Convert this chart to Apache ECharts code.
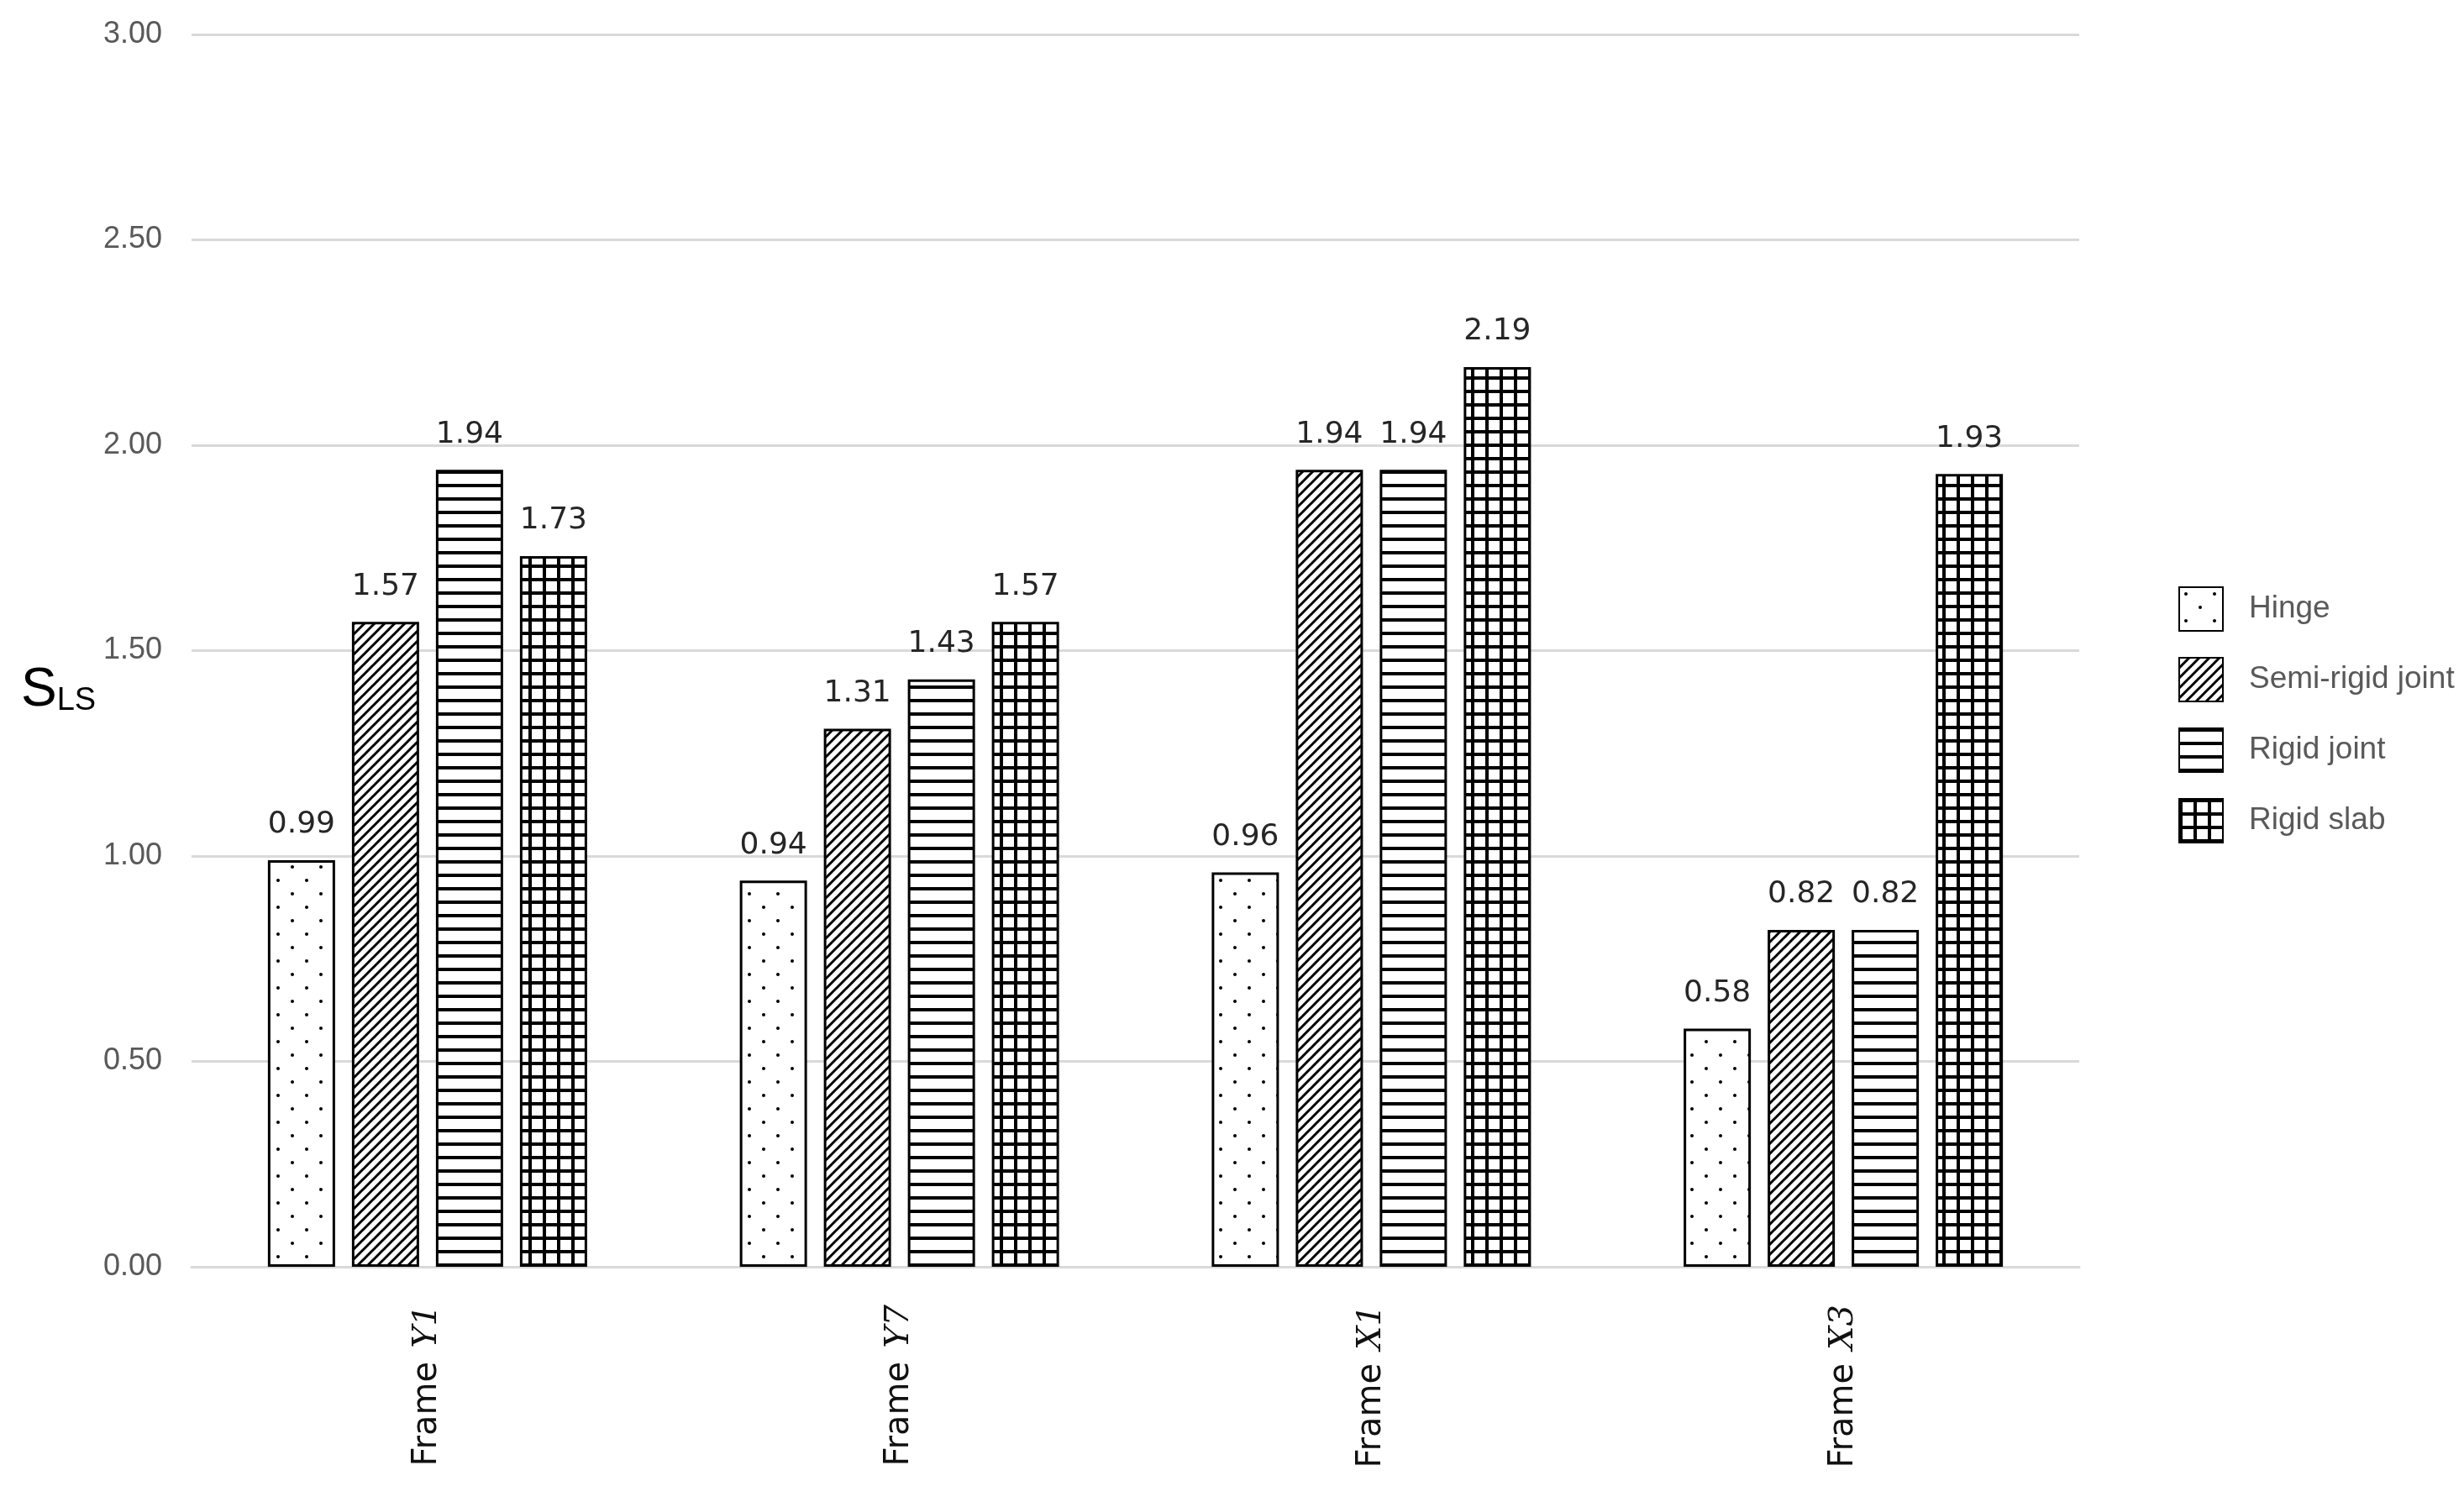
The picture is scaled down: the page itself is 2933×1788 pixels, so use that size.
<!DOCTYPE html>
<html>
<head>
<meta charset="utf-8">
<script src="https://cdn.jsdelivr.net/npm/echarts@6/dist/echarts.min.js"></script>
<style>
html,body{margin:0;padding:0;background:#fff;}
#chart{width:2933px;height:1788px;}
</style>
</head>
<body>
<div id="chart"></div>
<script>
// ---- data ----
var categories = ['Frame Y1', 'Frame Y7', 'Frame X1', 'Frame X3'];
var seriesNames = ['Hinge', 'Semi-rigid joint', 'Rigid joint', 'Rigid slab'];
var hingeValues = [0.99, 0.94, 0.96, 0.58];
var semiRigidValues = [1.57, 1.31, 1.94, 0.82];
var rigidJointValues = [1.94, 1.43, 1.94, 0.82];
var rigidSlabValues = [1.73, 1.57, 2.19, 1.93];
var yTicks = [0, 0.5, 1, 1.5, 2, 2.5, 3];

// ---- patterns ----
function makeCanvas(w, h, draw) {
  var c = document.createElement('canvas');
  c.width = w; c.height = h;
  var ctx = c.getContext('2d');
  ctx.fillStyle = '#fff';
  ctx.fillRect(0, 0, w, h);
  ctx.fillStyle = '#000';
  ctx.strokeStyle = '#000';
  draw(ctx, w, h);
  return c;
}
var dotPattern = makeCanvas(34, 32, function (ctx) {
  ctx.beginPath(); ctx.arc(8, 8, 2, 0, Math.PI * 2); ctx.fill();
  ctx.beginPath(); ctx.arc(25, 24, 2, 0, Math.PI * 2); ctx.fill();
});
var diagPattern = makeCanvas(12, 12, function (ctx, w, h) {
  ctx.lineWidth = 3;
  ctx.beginPath();
  ctx.moveTo(-2, h + 2); ctx.lineTo(w + 2, -2);
  ctx.moveTo(-2 - w, h + 2); ctx.lineTo(2, -2);
  ctx.moveTo(w - 2, h + 2); ctx.lineTo(2 * w + 2, -2);
  ctx.stroke();
});
var hLinePattern = makeCanvas(16, 16, function (ctx, w) {
  ctx.fillRect(0, 0, w, 4);
});
var gridPattern = makeCanvas(17, 16, function (ctx, w, h) {
  ctx.fillRect(0, 0, w, 4);
  ctx.fillRect(0, 0, 4, h);
});
var patterns = [dotPattern, diagPattern, hLinePattern, gridPattern];
var allValues = [hingeValues, semiRigidValues, rigidJointValues, rigidSlabValues];

var chart = echarts.init(document.getElementById('chart'), null, {renderer: 'canvas'});

var series = seriesNames.map(function (name, i) {
  return {
    name: name,
    type: 'bar',
    data: allValues[i],
    barWidth: 80,
    barGap: '25%',
    itemStyle: {
      color: {image: patterns[i], repeat: 'repeat'},
      borderColor: '#000',
      borderWidth: 3
    },
    label: {
      show: true,
      position: 'top',
      distance: 24,
      formatter: function (p) { return p.value.toFixed(2); },
      fontFamily: 'DejaVu Sans',
      fontSize: 36,
      color: '#262626'
    },
    emphasis: {disabled: true}
  };
});

chart.setOption({
  animation: false,
  backgroundColor: '#fff',
  title: {
    text: '{s|S}{sub|LS}',
    left: 20,
    top: 779,
    textStyle: {
      fontWeight: 'normal',
      rich: {
        s: {fontFamily: 'Liberation Sans', fontWeight: 'normal', fontSize: 64, lineHeight: 70, color: '#000', verticalAlign: 'bottom'},
        sub: {fontFamily: 'Liberation Sans', fontWeight: 'normal', fontSize: 38, lineHeight: 30, color: '#000', verticalAlign: 'bottom'}
      }
    }
  },
  legend: {
    orient: 'vertical',
    left: 2588,
    top: 693,
    itemWidth: 52,
    itemHeight: 52,
    itemGap: 30,
    icon: 'rect',
    data: seriesNames,
    textStyle: {
      fontFamily: 'Liberation Sans',
      fontSize: 37,
      color: '#595959',
      padding: [0, 0, 0, 26]
    }
  },
  grid: {left: 228, right: 458, top: 41, bottom: 280, containLabel: false},
  xAxis: {
    type: 'category',
    data: categories,
    axisTick: {show: false},
    axisLine: {show: true, lineStyle: {color: '#d9d9d9', width: 3}},
    axisLabel: {
      rotate: 90,
      margin: 45,
      interval: 0,
      color: '#111',
      formatter: function (v) {
        var parts = v.split(' ');
        return '{a|' + parts[0] + '}{b|' + parts[1] + '}';
      },
      rich: {
        a: {fontFamily: 'DejaVu Sans', fontSize: 40, color: '#111'},
        b: {fontFamily: 'DejaVu Serif', fontStyle: 'italic', fontSize: 40, color: '#111', padding: [0, 0, 0, 16]}
      }
    }
  },
  yAxis: {
    type: 'value',
    min: yTicks[0],
    max: yTicks[yTicks.length - 1],
    interval: yTicks[1] - yTicks[0],
    axisLine: {show: false},
    axisTick: {show: false},
    splitLine: {show: true, lineStyle: {color: '#d9d9d9', width: 3}},
    axisLabel: {
      margin: 35,
      fontFamily: 'Liberation Sans',
      fontSize: 36,
      color: '#595959',
      formatter: function (v) { return v.toFixed(2); }
    }
  },
  series: series
});
</script>
</body>
</html>
